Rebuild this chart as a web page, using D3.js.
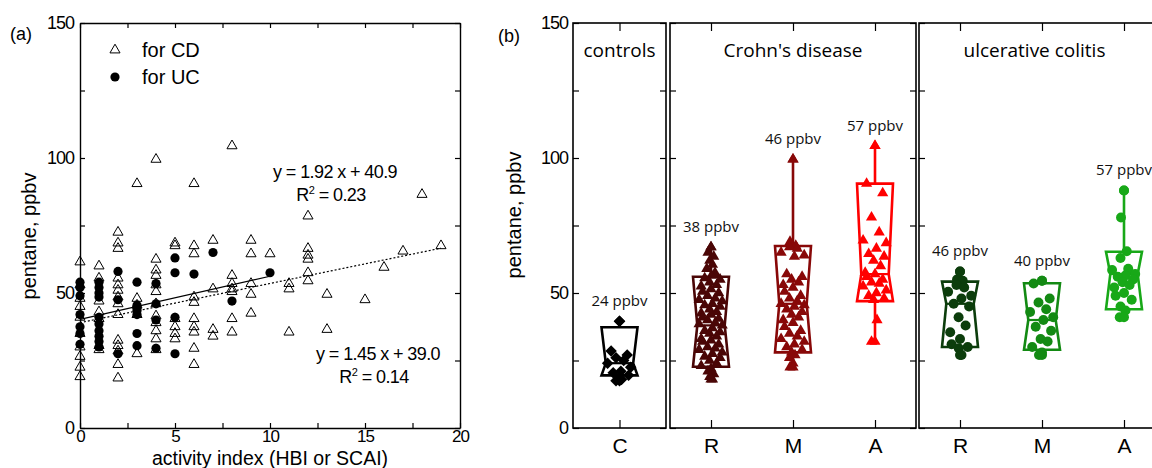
<!DOCTYPE html>
<html>
<head>
<meta charset="utf-8">
<script src="https://cdn.jsdelivr.net/npm/d3@7"></script>
<style>
  html, body { margin: 0; padding: 0; background: #fff; }
  svg { display: block; }
</style>
</head>
<body>
<svg id="chart" width="1152" height="468"></svg>
<script>
// ─── Panel (a): pentane vs activity index ─────────────────────

const cdIndex = [0, 1, 2, 3, 4, 5, 6, 7, 8, 9, 10, 11, 12, 13, 15, 16, 17, 18, 19];
const cdPentane = [
  [61.5, 53, 48, 45, 41, 35, 30, 26.5, 22.5, 19],
  [60, 55.5, 47, 43, 40.5, 30.5, 29],
  [72.5, 68.5, 66.5, 55.5, 53, 51, 48.5, 46, 42, 32.5, 30.5, 28.5, 23.5, 18.5],
  [90.5, 48, 45.5, 42, 27.5],
  [99.5, 62.5, 58.5, 56.5, 53, 50.5, 46, 41.5, 39, 36, 33, 29],
  [68.5, 67.5, 40.5, 37.5, 35, 33],
  [90.5, 67.5, 64.5, 48.5, 46.5, 40.5, 37.5, 35.5, 29.5, 23.5],
  [69.5, 51.5, 36.5, 34],
  [104.5, 56.5, 53.5, 51.5, 50.5, 40.5, 35.5],
  [69.5, 64.5, 53.5, 49.5, 42.5],
  [64.5],
  [53.5, 51.5, 35.5],
  [78.5, 66.5, 64, 62.5, 57.5, 54.5],
  [49.5, 36.5],
  [47.5],
  [59.5],
  [65.5],
  [86.5],
  [67.5]
];

const ucIndex = [0, 1, 2, 3, 4, 5, 6, 7, 8, 10];
const ucPentane = [
  [54, 52, 49, 42, 37.5, 35, 31],
  [54, 52, 50, 48.5, 41, 38.5, 36, 34, 32, 30],
  [58, 47.5, 27.5],
  [54, 45.5, 44.5, 43.5, 42, 35, 30.5],
  [53.5, 46, 40, 29.5],
  [63, 57.5, 41, 27.5],
  [57],
  [65],
  [47],
  [57.5]
];

// fit lines as drawn in the figure (end points)
const cdFit = [[0, 39.0], [19, 66.6]];
const ucFit = [[0, 40.2], [10, 56.2]];

const xTicksA = [0, 5, 10, 15, 20];
const yTicks = [0, 50, 100, 150];

// ─── Panel (b): box charts per group ─────────────────────────

const ctrlCats = ["C"];
const ctrlMin = [17.5];
const ctrlQ1 = [19.5];
const ctrlMed = [24];
const ctrlQ3 = [37.3];
const ctrlMax = [39.5];
const ctrlPoints = [[39.5, 28.5, 27, 26, 25, 24, 22.5, 21, 20.5, 19.5, 18.5, 18, 17.5]];

const cdCats = ["R", "M", "A"];
const cdMin = [18, 22.5, 32];
const cdQ1 = [22.7, 28, 47];
const cdMed = [38, 46, 57];
const cdQ3 = [56, 67.4, 90.5];
const cdMax = [67, 99.5, 104.5];
const cdPoints = [
  [67, 65, 63.5, 62, 60.5, 59, 57.5, 56.5, 55.5, 55, 54, 53, 52.5, 51.5, 50.5, 50, 49, 48,
   47.5, 47, 46, 45.5, 45, 44, 43, 42.5, 42, 41, 40.5, 40, 39, 38.5, 38, 37, 36, 35.5, 35,
   34, 33, 32.5, 32, 31, 30, 29.5, 29, 28, 27.5, 26.5, 26, 25, 24, 23, 22, 21, 20, 19, 18],
  [99.5, 69, 67.5, 67, 66.5, 65, 64, 63.5, 57, 56, 55, 54, 53, 52, 50.5, 49, 48, 47, 46,
   45.5, 45, 44, 43, 42, 41, 40, 39, 37.5, 36, 35, 34, 33, 32, 31, 30, 29, 28, 27, 26, 24, 22.5],
  [104.5, 90.5, 87, 78, 72.5, 69.5, 68.5, 66.5, 64.5, 63.5, 62, 60, 57.5, 57, 56, 55, 54,
   53.5, 52.5, 51, 50, 49, 48, 47.5, 40, 32]
];

const ucCats = ["R", "M", "A"];
const ucMin = [27, 27, 41];
const ucQ1 = [30, 29, 44];
const ucMed = [46, 40, 57];
const ucQ3 = [54.2, 53.6, 65.3];
const ucMax = [58, 54.5, 88];
const ucPoints = [
  [58, 55, 54.5, 53, 52, 50.5, 49, 48, 46, 45, 41, 38, 35.5, 33, 31, 30, 29.5, 27],
  [54.5, 53.5, 48, 46.5, 44, 43, 41, 40, 37.5, 36, 33, 32, 30, 28, 27],
  [88, 78, 65.5, 63, 59, 58.5, 57, 56.5, 56, 55, 54, 53, 52, 50, 49, 47.5, 45, 43.5, 41]
];

const cdColors = ["#4a0606", "#880808", "#ff0000"];
const ucColors = ["#0c3d0c", "#138a13", "#18a818"];

// ─── Setup ────────────────────────────────────────────────────

const FONT = "'Liberation Sans', Arial, sans-serif";
const FONT_B = "'Open Sans', 'Noto Sans', sans-serif";
const svg = d3.select("#chart");

svg.append("rect").attr("width", 1152).attr("height", 468).attr("fill", "#fff");

const y = d3.scaleLinear().domain([0, 150]).range([428, 23]);
const xA = d3.scaleLinear().domain([0, 20]).range([80, 460]);

const triPath = d3.symbol().type(d3.symbolTriangle).size(44)();

// ─── Panel (a) ───────────────────────────────────────────────

function drawPanelA() {
  const g = svg.append("g");

  const yMinor = d3.range(0, 151, 25);
  const xMinor = d3.range(0, 20.1, 2.5);

  const left = d3.axisLeft(y).tickValues(yMinor).tickSize(-5).tickSizeOuter(0).tickPadding(6)
    .tickFormat(d => yTicks.includes(d) ? d : "");
  const right = d3.axisRight(y).tickValues(yMinor).tickSize(-5).tickSizeOuter(0).tickFormat("");
  const bottom = d3.axisBottom(xA).tickValues(xMinor).tickSize(-5).tickSizeOuter(0).tickPadding(2)
    .tickFormat(d => xTicksA.includes(d) ? d : "");
  const top = d3.axisTop(xA).tickValues(xMinor).tickSize(-5).tickSizeOuter(0).tickFormat("");

  g.append("g").attr("transform", "translate(80,0)").call(left);
  g.append("g").attr("transform", "translate(460,0)").call(right);
  const bx = g.append("g").attr("transform", "translate(0,428)").call(bottom);
  g.append("g").attr("transform", "translate(0,23)").call(top);

  styleAxes(g);
  bx.selectAll(".tick text").attr("font-size", 17);

  // fit lines
  const line = d3.line().x(d => xA(d[0])).y(d => y(d[1]));
  g.append("path").attr("d", line(cdFit))
    .attr("fill", "none").attr("stroke", "#000").attr("stroke-width", 1.2)
    .attr("stroke-dasharray", "2,2");
  g.append("path").attr("d", line(ucFit))
    .attr("fill", "none").attr("stroke", "#000").attr("stroke-width", 1.2);

  // CD open triangles
  const cdFlat = [];
  cdIndex.forEach((xi, i) => cdPentane[i].forEach(v => cdFlat.push([xi, v])));
  g.append("g").selectAll("path")
    .data(cdFlat)
    .join("path")
    .attr("d", triPath)
    .attr("transform", d => `translate(${xA(d[0])},${y(d[1])})`)
    .attr("fill", "none")
    .attr("stroke", "#000")
    .attr("stroke-width", 1);

  // UC filled circles
  const ucFlat = [];
  ucIndex.forEach((xi, i) => ucPentane[i].forEach(v => ucFlat.push([xi, v])));
  g.append("g").selectAll("circle")
    .data(ucFlat)
    .join("circle")
    .attr("cx", d => xA(d[0]))
    .attr("cy", d => y(d[1]))
    .attr("r", 4.6)
    .attr("fill", "#000");

  // legend
  g.append("path").attr("d", triPath).attr("transform", "translate(115,50)")
    .attr("fill", "none").attr("stroke", "#000");
  g.append("circle").attr("cx", 115).attr("cy", 77).attr("r", 4.6).attr("fill", "#000");
  g.append("text").attr("x", 142).attr("y", 57).text("for CD").call(txt, 20);
  g.append("text").attr("x", 142).attr("y", 84).text("for UC").call(txt, 20);

  // equations
  equation(g, 335, 178, "y = 1.92 x + 40.9", "0.23");
  equation(g, 378, 360, "y = 1.45 x + 39.0", "0.14");

  // titles
  g.append("text").attr("x", 10).attr("y", 40).text("(a)").call(txt, 18);
  g.append("text")
    .attr("transform", "translate(36,236) rotate(-90)")
    .attr("text-anchor", "middle")
    .text("pentane, ppbv").call(txt, 20);
  g.append("text").attr("x", 270).attr("y", 465).attr("text-anchor", "middle")
    .text("activity index (HBI or SCAI)").call(txt, 19.5);
}

function equation(g, cx, by, line1, r2) {
  g.append("text").attr("x", cx).attr("y", by).attr("text-anchor", "middle")
    .attr("letter-spacing", "-0.6px")
    .text(line1).call(txt, 18);
  const t = g.append("text").attr("x", cx - 4).attr("y", by + 23).attr("text-anchor", "middle")
    .attr("letter-spacing", "-0.6px").call(txt, 18);
  t.append("tspan").text("R");
  t.append("tspan").attr("dy", -7).attr("font-size", 11).text("2");
  t.append("tspan").attr("dy", 7).text(" = " + r2);
}

function txt(sel, size) {
  sel.attr("font-family", FONT).attr("font-size", size).attr("fill", "#000");
}

function styleAxes(g) {
  g.selectAll(".domain").attr("stroke", "#000").attr("stroke-width", 1.4);
  g.selectAll(".tick line").attr("stroke", "#000").attr("stroke-width", 1.2);
  g.selectAll(".tick text")
    .attr("font-family", FONT).attr("font-size", 18)
    .attr("letter-spacing", "-1px").attr("fill", "#000");
}

// ─── Panel (b) ───────────────────────────────────────────────

const BOX_HW = 18;     // half box width
const NOTCH = 4.3;     // notch inset at median
const JITTER = [0, -0.6, 0.55, -0.25, 0.3, -0.85, 0.8, 0.1, -0.45, 0.65, -0.1, 0.4, -0.7];

function drawPanelB() {
  const panels = [
    { title: "controls", range: [573, 666], cats: ctrlCats, min: ctrlMin, q1: ctrlQ1, med: ctrlMed,
      q3: ctrlQ3, max: ctrlMax, points: ctrlPoints, colors: ["#000"], shape: "diamond", labels: true },
    { title: "Crohn's disease", range: [670, 916], cats: cdCats, min: cdMin, q1: cdQ1, med: cdMed,
      q3: cdQ3, max: cdMax, points: cdPoints, colors: cdColors, shape: "triangle" },
    { title: "ulcerative colitis", range: [919, 1165], cats: ucCats, min: ucMin, q1: ucQ1, med: ucMed,
      q3: ucQ3, max: ucMax, points: ucPoints, colors: ucColors, shape: "circle" }
  ];

  const yMinor = d3.range(0, 151, 25);

  panels.forEach(p => {
    const g = svg.append("g");
    const x = d3.scaleBand().domain(p.cats).range(p.range);
    const cx = c => x(c) + x.bandwidth() / 2;
    const [x0, x1] = p.range;

    // frame ticks
    const left = d3.axisLeft(y).tickValues(yMinor).tickSize(-6).tickSizeOuter(0).tickPadding(5)
      .tickFormat(d => p.labels && yTicks.includes(d) ? d : "");
    const right = d3.axisRight(y).tickValues(yMinor).tickSize(-6).tickSizeOuter(0).tickFormat("");
    const pos = d3.scaleOrdinal().domain(p.cats).range(p.cats.map(cx));
    const bottom = d3.axisBottom(pos).tickSize(-8).tickSizeOuter(0).tickPadding(10);
    const top = d3.axisTop(pos).tickSize(-8).tickSizeOuter(0).tickFormat("");

    g.append("g").attr("transform", `translate(${x0},0)`).call(left);
    g.append("g").attr("transform", `translate(${x1},0)`).call(right);
    g.append("g").attr("transform", "translate(0,428)").call(bottom);
    g.append("g").attr("transform", "translate(0,23)").call(top);
    g.append("rect").attr("x", x0).attr("y", 23).attr("width", x1 - x0).attr("height", 405)
      .attr("fill", "none").attr("stroke", "#000").attr("stroke-width", 1.6);
    styleAxes(g);
    g.selectAll(".domain").remove();
    g.selectAll(".tick text").filter(function () { return /[A-Z]/.test(this.textContent); })
      .attr("font-size", 21).attr("letter-spacing", "0px");

    g.append("text").attr("x", (x0 + Math.min(x1, 1152)) / 2 + (p.title === "ulcerative colitis" ? -1 : 0))
      .attr("y", 57).attr("text-anchor", "middle")
      .attr("font-family", FONT_B).attr("font-size", 19).attr("fill", "#000")
      .text(p.title);

    const marker = shapeFn(p.shape);

    p.cats.forEach((c, i) => {
      const col = p.colors[i];
      const mx = cx(c);
      const bg = g.append("g");

      // whiskers
      bg.append("line").attr("x1", mx).attr("x2", mx)
        .attr("y1", y(p.q3[i])).attr("y2", y(p.max[i]))
        .attr("stroke", col).attr("stroke-width", 2.6);
      bg.append("line").attr("x1", mx).attr("x2", mx)
        .attr("y1", y(p.q1[i])).attr("y2", y(p.min[i]))
        .attr("stroke", col).attr("stroke-width", 2.6);

      // notched box
      const yq3 = y(p.q3[i]), yq1 = y(p.q1[i]), ym = y(p.med[i]);
      bg.append("path")
        .attr("d", `M${mx - BOX_HW},${yq3}L${mx + BOX_HW},${yq3}L${mx + BOX_HW - NOTCH},${ym}` +
          `L${mx + BOX_HW},${yq1}L${mx - BOX_HW},${yq1}L${mx - BOX_HW + NOTCH},${ym}Z`)
        .attr("fill", "none").attr("stroke", col).attr("stroke-width", 2.6)
        .attr("stroke-linejoin", "miter");
      bg.append("line")
        .attr("x1", mx - BOX_HW + NOTCH).attr("x2", mx + BOX_HW - NOTCH)
        .attr("y1", ym).attr("y2", ym)
        .attr("stroke", col).attr("stroke-width", 2.2);

      // data points
      const pts = p.points[i].map((v, k) => {
        const inside = v >= p.q1[i] && v <= p.q3[i];
        const off = JITTER[k % JITTER.length] * (inside ? BOX_HW - 4 : 5);
        return [mx + off, v];
      });
      pts.push([mx, p.min[i]], [mx, p.max[i]]);
      bg.selectAll(".pt")
        .data(pts)
        .join("path")
        .attr("class", "pt")
        .attr("d", marker)
        .attr("transform", d => `translate(${d[0]},${y(d[1])})` + (p.shape === "diamond" ? " rotate(45)" : ""))
        .attr("fill", col);

      // median label
      bg.append("text")
        .attr("x", mx).attr("y", y(p.max[i]) - 15)
        .attr("text-anchor", "middle")
        .attr("font-family", FONT_B).attr("font-size", 15).attr("fill", "#111")
        .text(`${p.med[i]} ppbv`);
    });
  });

  svg.append("text").attr("x", 498).attr("y", 42).text("(b)").call(txt, 18);
  svg.append("text")
    .attr("transform", "translate(521,215) rotate(-90)")
    .attr("text-anchor", "middle")
    .text("pentane, ppbv").call(txt, 20);
}

function shapeFn(shape) {
  if (shape === "diamond") return d3.symbol().type(d3.symbolSquare).size(66)();
  if (shape === "circle") return d3.symbol().type(d3.symbolCircle).size(78)();
  return d3.symbol().type(d3.symbolTriangle).size(54)();
}

drawPanelA();
drawPanelB();
</script>
</body>
</html>
